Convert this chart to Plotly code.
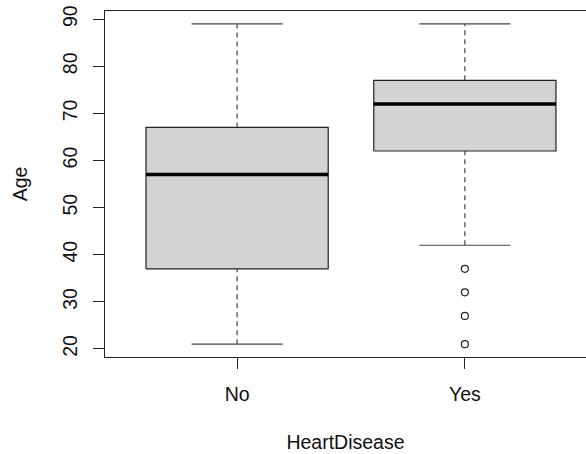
import plotly.graph_objects as go

# Age by heart-disease status: five-number summaries and outliers
groups = ["No", "Yes"]
positions = [1, 2]
lower_whisker = [21, 42]
q1 = [37, 62]
median = [57, 72]
q3 = [67, 77]
upper_whisker = [89, 89]
outliers = {"Yes": [37, 32, 27, 21]}

y_ticks = [20, 30, 40, 50, 60, 70, 80, 90]

BOX_HALF = 0.4
CAP_HALF = 0.2
FONT = "Liberation Sans, Arial, sans-serif"
INK = "#222222"

fig = go.Figure()

for i, g in enumerate(groups):
    x = positions[i]
    # dashed whiskers from box edges to the caps
    for y0, y1 in ((q3[i], upper_whisker[i]), (lower_whisker[i], q1[i])):
        fig.add_trace(go.Scatter(
            x=[x, x], y=[y0, y1], mode="lines",
            line=dict(color="#444444", width=1.2, dash="5px,4px"),
            hoverinfo="skip", showlegend=False))
    # whisker caps
    for yc in (lower_whisker[i], upper_whisker[i]):
        fig.add_trace(go.Scatter(
            x=[x - CAP_HALF, x + CAP_HALF], y=[yc, yc], mode="lines",
            line=dict(color="#444444", width=1.2),
            hoverinfo="skip", showlegend=False))
    # interquartile box
    fig.add_trace(go.Scatter(
        x=[x - BOX_HALF, x + BOX_HALF, x + BOX_HALF, x - BOX_HALF, x - BOX_HALF],
        y=[q1[i], q1[i], q3[i], q3[i], q1[i]],
        mode="lines", fill="toself", fillcolor="#D3D3D3",
        line=dict(color=INK, width=1.2),
        hoverinfo="skip", showlegend=False))
    # median bar
    fig.add_trace(go.Scatter(
        x=[x - BOX_HALF, x + BOX_HALF], y=[median[i], median[i]], mode="lines",
        line=dict(color="#000000", width=3.5),
        hoverinfo="skip", showlegend=False))
    # outlying points
    if g in outliers:
        pts = outliers[g]
        fig.add_trace(go.Scatter(
            x=[x] * len(pts), y=pts, mode="markers",
            marker=dict(symbol="circle-open", size=7, color=INK,
                        line=dict(width=1.2, color=INK)),
            hoverinfo="skip", showlegend=False))

plot_left, plot_right = 104.5, 586
px_per_unit = 228
x_lo = 0.42
x_hi = x_lo + (plot_right - plot_left) / px_per_unit

fig.update_layout(
    width=586, height=454,
    margin=dict(l=plot_left, r=0, t=10.5, b=96.5, pad=0),
    plot_bgcolor="white", paper_bgcolor="white",
    font=dict(family=FONT, size=20, color="#111111"),
    xaxis=dict(
        range=[x_lo, x_hi], tickmode="array", tickvals=positions, ticktext=groups,
        showgrid=False, zeroline=False,
        showline=True, linecolor=INK, linewidth=1.2, mirror=True,
        ticks="outside", ticklen=11, tickcolor=INK, tickwidth=1.2,
        tickfont=dict(size=19.5), ticklabelstandoff=8,
        title=dict(text="HeartDisease", standoff=31, font=dict(size=19.5)),
    ),
    yaxis=dict(
        range=[18.28, 91.72], tickmode="array", tickvals=y_ticks,
        ticktext=[str(v) for v in y_ticks], tickangle=-90,
        showgrid=False, zeroline=False,
        showline=True, linecolor=INK, linewidth=1.2, mirror=False,
        ticks="outside", ticklen=11, tickcolor=INK, tickwidth=1.2,
        tickfont=dict(size=19.5), ticklabelstandoff=8,
        title=dict(text="Age", standoff=26, font=dict(size=19.5)),
    ),
)

fig.write_html("out.html")
